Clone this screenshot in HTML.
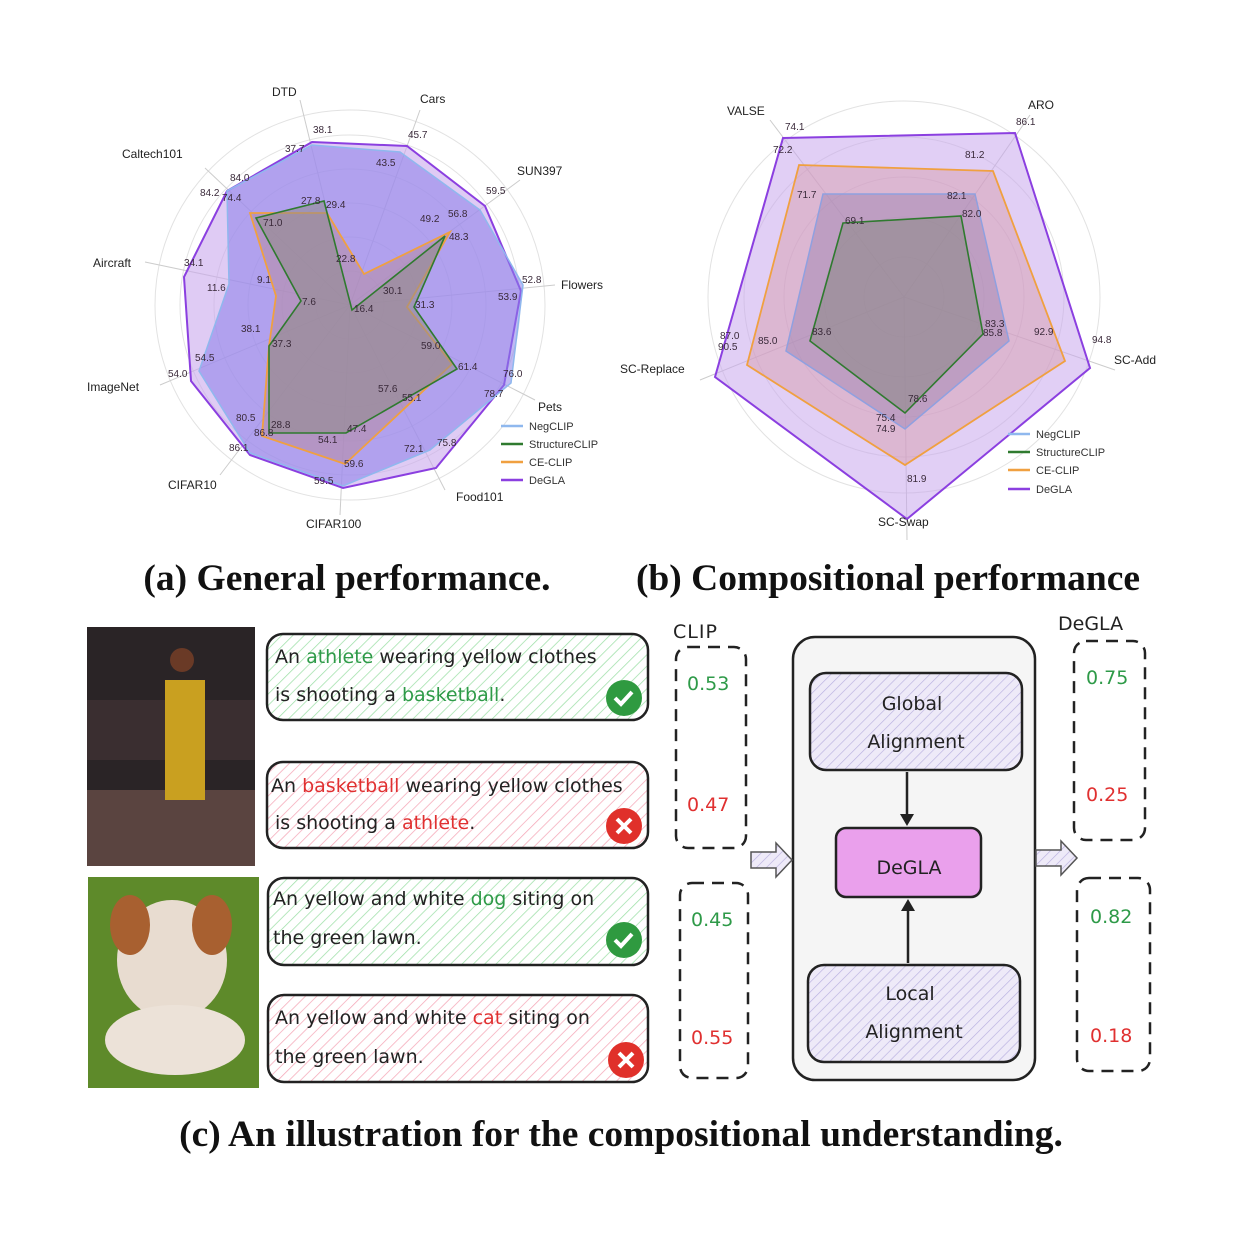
<!DOCTYPE html>
<html><head><meta charset="utf-8"><style>
html,body{margin:0;padding:0;background:#fff;}
svg{display:block}
.t{font-family:"Liberation Sans","DejaVu Sans",sans-serif;fill:#222}
.n{font-family:"Liberation Sans",sans-serif;font-size:10px;fill:#3a2a3a}
.cap{font-family:"Liberation Serif",serif;font-weight:bold;font-size:37.5px;fill:#111}
.h{font-family:"DejaVu Sans","Liberation Sans",sans-serif;font-size:19px;fill:#222}
</style></head><body>
<svg width="1239" height="1239" viewBox="0 0 1239 1239" xmlns="http://www.w3.org/2000/svg">
<defs>
<pattern id="hg" width="8" height="8" patternUnits="userSpaceOnUse" patternTransform="rotate(45)"><rect width="8" height="8" fill="#fff"/><line x1="0" y1="0" x2="0" y2="8" stroke="#9ee0a8" stroke-width="1.5"/></pattern>
<pattern id="hr" width="8" height="8" patternUnits="userSpaceOnUse" patternTransform="rotate(45)"><rect width="8" height="8" fill="#fff"/><line x1="0" y1="0" x2="0" y2="8" stroke="#f5a8b8" stroke-width="1.5"/></pattern>
<pattern id="hp" width="7" height="7" patternUnits="userSpaceOnUse" patternTransform="rotate(45)"><rect width="7" height="7" fill="#eeeaf8"/><line x1="0" y1="0" x2="0" y2="7" stroke="#b8b0e0" stroke-width="1.3"/></pattern>
</defs>
<rect width="1239" height="1239" fill="#fff"/>

<!-- Chart A -->
<g fill="none" stroke="#e2e2e2" stroke-width="1">
<circle cx="350" cy="305" r="34"/><circle cx="350" cy="305" r="68"/><circle cx="350" cy="305" r="102"/><circle cx="350" cy="305" r="136"/><circle cx="350" cy="305" r="170"/><circle cx="350" cy="305" r="195"/>
</g>
<g stroke="#ccc" stroke-width="1">
<line x1="350" y1="305" x2="300" y2="100"/><line x1="350" y1="305" x2="420" y2="110"/><line x1="350" y1="305" x2="520" y2="180"/><line x1="350" y1="305" x2="555" y2="285"/><line x1="350" y1="305" x2="535" y2="400"/><line x1="350" y1="305" x2="445" y2="490"/><line x1="350" y1="305" x2="340" y2="515"/><line x1="350" y1="305" x2="220" y2="475"/><line x1="350" y1="305" x2="160" y2="385"/><line x1="350" y1="305" x2="145" y2="262"/><line x1="350" y1="305" x2="205" y2="168"/>
</g>
<polygon points="312,142 407,146 485,206 521,291 504,385 436,468 343,488 250,455 191,381 184,277 227,191" fill="#c9a8ec" fill-opacity="0.6" stroke="#8b3fe0" stroke-width="2"/>
<polygon points="312,145 400,152 480,210 523,285 511,383 430,450 343,486 250,453 199,371 229,284 227,191" fill="#8a80ea" fill-opacity="0.55" stroke="#8fb8ee" stroke-width="1.5"/>
<polygon points="327,213 364,274 450,232 407,307 452,364 345,464 262,436 269,346 276,296 250,213" fill="#b88a9a" fill-opacity="0.5" stroke="#f0a040" stroke-width="1.8"/>
<polygon points="324,201 352,310 445,236 414,307 457,369 346,433 269,433 269,346 301,301 256,218" fill="#8f8a8a" fill-opacity="0.55" stroke="#2f7a2f" stroke-width="1.6"/>
<g class="t" font-size="12">
<text x="272" y="96">DTD</text><text x="420" y="103">Cars</text><text x="517" y="175">SUN397</text><text x="561" y="289">Flowers</text><text x="538" y="411">Pets</text><text x="456" y="501">Food101</text><text x="306" y="528">CIFAR100</text><text x="168" y="489">CIFAR10</text><text x="87" y="391">ImageNet</text><text x="93" y="267">Aircraft</text><text x="122" y="158">Caltech101</text>
</g>
<g class="n">
<text x="313" y="133">38.1</text><text x="285" y="152">37.7</text><text x="408" y="138">45.7</text><text x="376" y="166">43.5</text><text x="486" y="194">59.5</text><text x="420" y="222">49.2</text><text x="448" y="217">56.8</text><text x="449" y="240">48.3</text><text x="522" y="283">52.8</text><text x="498" y="300">53.9</text><text x="383" y="294">30.1</text><text x="415" y="308">31.3</text><text x="421" y="349">59.0</text><text x="458" y="370">61.4</text><text x="503" y="377">76.0</text><text x="484" y="397">78.7</text><text x="378" y="392">57.6</text><text x="402" y="401">55.1</text><text x="404" y="452">72.1</text><text x="437" y="446">75.8</text><text x="344" y="467">59.6</text><text x="314" y="484">59.5</text><text x="318" y="443">54.1</text><text x="347" y="432">47.4</text><text x="271" y="428">28.8</text><text x="236" y="421">80.5</text><text x="254" y="436">86.8</text><text x="229" y="451">86.1</text><text x="195" y="361">54.5</text><text x="168" y="377">54.0</text><text x="241" y="332">38.1</text><text x="272" y="347">37.3</text><text x="257" y="283">9.1</text><text x="207" y="291">11.6</text><text x="302" y="305">7.6</text><text x="354" y="312">16.4</text><text x="184" y="266">34.1</text><text x="336" y="262">22.8</text><text x="263" y="226">71.0</text><text x="200" y="196">84.2</text><text x="222" y="201">74.4</text><text x="230" y="181">84.0</text><text x="301" y="204">27.8</text><text x="326" y="208">29.4</text>
</g>
<g font-family="Liberation Sans,sans-serif" font-size="11" fill="#333">
<line x1="501" y1="426" x2="523" y2="426" stroke="#8fb8ee" stroke-width="2.5"/><text x="529" y="430">NegCLIP</text>
<line x1="501" y1="444" x2="523" y2="444" stroke="#2f7a2f" stroke-width="2.5"/><text x="529" y="448">StructureCLIP</text>
<line x1="501" y1="462" x2="523" y2="462" stroke="#f0a040" stroke-width="2.5"/><text x="529" y="466">CE-CLIP</text>
<line x1="501" y1="480" x2="523" y2="480" stroke="#8b3fe0" stroke-width="2.5"/><text x="529" y="484">DeGLA</text>
</g>

<!-- Chart B -->
<g fill="none" stroke="#e2e2e2">
<circle cx="904" cy="297" r="40"/><circle cx="904" cy="297" r="80"/><circle cx="904" cy="297" r="120"/><circle cx="904" cy="297" r="160"/><circle cx="904" cy="297" r="196"/>
</g>
<g stroke="#ccc">
<line x1="904" y1="297" x2="770" y2="120"/><line x1="904" y1="297" x2="1030" y2="115"/><line x1="904" y1="297" x2="1115" y2="370"/><line x1="904" y1="297" x2="907" y2="540"/><line x1="904" y1="297" x2="700" y2="380"/>
</g>
<polygon points="783,138 1015,133 1090,368 907,519 715,377" fill="#c9a8ec" fill-opacity="0.55" stroke="#8b3fe0" stroke-width="2"/>
<polygon points="799,165 993,171 1065,361 905,465 747,365" fill="#d89aa8" fill-opacity="0.45" stroke="#f0a040" stroke-width="1.8"/>
<polygon points="823,194 975,194 1009,341 905,429 786,351" fill="#9a80b0" fill-opacity="0.45" stroke="#8fa0e0" stroke-width="1.5"/>
<polygon points="843,223 961,216 983,334 905,413 810,341" fill="#8f8a8a" fill-opacity="0.6" stroke="#2f7a2f" stroke-width="1.6"/>
<g class="t" font-size="12"><text x="727" y="115">VALSE</text><text x="1028" y="109">ARO</text><text x="1114" y="364">SC-Add</text><text x="878" y="526">SC-Swap</text><text x="620" y="373">SC-Replace</text></g>
<g class="n">
<text x="785" y="130">74.1</text><text x="773" y="153">72.2</text><text x="797" y="198">71.7</text><text x="845" y="224">69.1</text><text x="1016" y="125">86.1</text><text x="965" y="158">81.2</text><text x="947" y="199">82.1</text><text x="962" y="217">82.0</text><text x="985" y="327">83.3</text><text x="983" y="336">85.8</text><text x="1034" y="335">92.9</text><text x="1092" y="343">94.8</text><text x="908" y="402">78.6</text><text x="876" y="421">75.4</text><text x="876" y="432">74.9</text><text x="907" y="482">81.9</text><text x="812" y="335">83.6</text><text x="758" y="344">85.0</text><text x="720" y="339">87.0</text><text x="718" y="350">90.5</text>
</g>
<g font-family="Liberation Sans,sans-serif" font-size="11" fill="#333">
<line x1="1008" y1="434" x2="1030" y2="434" stroke="#8fb8ee" stroke-width="2.5"/><text x="1036" y="438">NegCLIP</text>
<line x1="1008" y1="452" x2="1030" y2="452" stroke="#2f7a2f" stroke-width="2.5"/><text x="1036" y="456">StructureCLIP</text>
<line x1="1008" y1="470" x2="1030" y2="470" stroke="#f0a040" stroke-width="2.5"/><text x="1036" y="474">CE-CLIP</text>
<line x1="1008" y1="489" x2="1030" y2="489" stroke="#8b3fe0" stroke-width="2.5"/><text x="1036" y="493">DeGLA</text>
</g>

<text class="cap" x="347" y="590" text-anchor="middle">(a) General performance.</text>
<text class="cap" x="888" y="590" text-anchor="middle">(b) Compositional performance</text>

<!-- images -->
<rect x="87" y="627" width="168" height="239" fill="#2a2426"/>
<rect x="87" y="700" width="168" height="60" fill="#3a2e30"/>
<rect x="87" y="790" width="168" height="76" fill="#5a4440"/>
<rect x="165" y="680" width="40" height="120" fill="#c9a020"/>
<circle cx="182" cy="660" r="12" fill="#6a3a26"/>
<rect x="88" y="877" width="171" height="211" fill="#5e8a2a"/>
<ellipse cx="172" cy="960" rx="55" ry="60" fill="#e8dcd0"/>
<ellipse cx="130" cy="925" rx="20" ry="30" fill="#a86030"/><ellipse cx="212" cy="925" rx="20" ry="30" fill="#a86030"/>
<ellipse cx="175" cy="1040" rx="70" ry="35" fill="#ece2d8"/>

<!-- text boxes -->
<rect x="267" y="634" width="381" height="86" rx="16" fill="url(#hg)" stroke="#222" stroke-width="2.5"/>
<rect x="267" y="762" width="381" height="86" rx="16" fill="url(#hr)" stroke="#222" stroke-width="2.5"/>
<rect x="268" y="878" width="380" height="87" rx="16" fill="url(#hg)" stroke="#222" stroke-width="2.5"/>
<rect x="268" y="995" width="380" height="87" rx="16" fill="url(#hr)" stroke="#222" stroke-width="2.5"/>
<g class="h">
<text x="275" y="663">An <tspan fill="#2e9a48">athlete</tspan> wearing yellow clothes</text>
<text x="275" y="701">is shooting a <tspan fill="#2e9a48">basketball</tspan>.</text>
<text x="271" y="792">An <tspan fill="#e03030">basketball</tspan> wearing yellow clothes</text>
<text x="275" y="829">is shooting a <tspan fill="#e03030">athlete</tspan>.</text>
<text x="273" y="905">An yellow and white <tspan fill="#2e9a48">dog</tspan> siting on</text>
<text x="273" y="944">the green lawn.</text>
<text x="275" y="1024">An yellow and white <tspan fill="#e03030">cat</tspan> siting on</text>
<text x="275" y="1063">the green lawn.</text>
</g>
<g>
<circle cx="624" cy="698" r="18" fill="#2f9a40"/><path d="M615 698 l6 6 l11 -12" stroke="#fff" stroke-width="4" fill="none"/>
<circle cx="624" cy="826" r="18" fill="#e0302a"/><path d="M617 819 l14 14 M631 819 l-14 14" stroke="#fff" stroke-width="4"/>
<circle cx="624" cy="940" r="18" fill="#2f9a40"/><path d="M615 940 l6 6 l11 -12" stroke="#fff" stroke-width="4" fill="none"/>
<circle cx="626" cy="1060" r="18" fill="#e0302a"/><path d="M619 1053 l14 14 M633 1053 l-14 14" stroke="#fff" stroke-width="4"/>
</g>

<!-- score boxes -->
<text x="673" y="638" class="h" font-size="27" letter-spacing="1">CLIP</text>
<text x="1058" y="630" class="h" font-size="27">DeGLA</text>
<g fill="none" stroke="#222" stroke-width="2.5" stroke-dasharray="12 8">
<rect x="676" y="647" width="70" height="201" rx="12"/>
<rect x="680" y="883" width="68" height="195" rx="12"/>
<rect x="1074" y="641" width="71" height="199" rx="12"/>
<rect x="1077" y="878" width="73" height="193" rx="12"/>
</g>
<g class="h" font-size="20">
<text x="687" y="690" fill="#2e9a48">0.53</text><text x="687" y="811" fill="#e03030">0.47</text>
<text x="691" y="926" fill="#2e9a48">0.45</text><text x="691" y="1044" fill="#e03030">0.55</text>
<text x="1086" y="684" fill="#2e9a48">0.75</text><text x="1086" y="801" fill="#e03030">0.25</text>
<text x="1090" y="923" fill="#2e9a48">0.82</text><text x="1090" y="1042" fill="#e03030">0.18</text>
</g>

<!-- central -->
<rect x="793" y="637" width="242" height="443" rx="22" fill="#f5f5f5" stroke="#222" stroke-width="2.5"/>
<rect x="810" y="673" width="212" height="97" rx="16" fill="url(#hp)" stroke="#222" stroke-width="2.5"/>
<rect x="836" y="828" width="145" height="69" rx="10" fill="#eaa0ec" stroke="#222" stroke-width="2.5"/>
<rect x="808" y="965" width="212" height="97" rx="16" fill="url(#hp)" stroke="#222" stroke-width="2.5"/>
<g class="h" font-size="28" text-anchor="middle">
<text x="912" y="710">Global</text><text x="916" y="748">Alignment</text>
<text x="909" y="874">DeGLA</text>
<text x="910" y="1000">Local</text><text x="914" y="1038">Alignment</text>
</g>
<line x1="907" y1="772" x2="907" y2="815" stroke="#222" stroke-width="2.5"/><path d="M900 814 L907 826 L914 814 Z" fill="#222"/>
<line x1="908" y1="963" x2="908" y2="910" stroke="#222" stroke-width="2.5"/><path d="M901 911 L908 899 L915 911 Z" fill="#222"/>
<path d="M751 852 h25 v-9 l16 17 l-16 17 v-9 h-25 z" fill="url(#hp)" stroke="#555" stroke-width="1.5"/>
<path d="M1036 850 h25 v-9 l16 17 l-16 17 v-9 h-25 z" fill="url(#hp)" stroke="#555" stroke-width="1.5"/>

<text class="cap" x="621" y="1146" text-anchor="middle">(c) An illustration for the compositional understanding.</text>
</svg>
</body></html>
